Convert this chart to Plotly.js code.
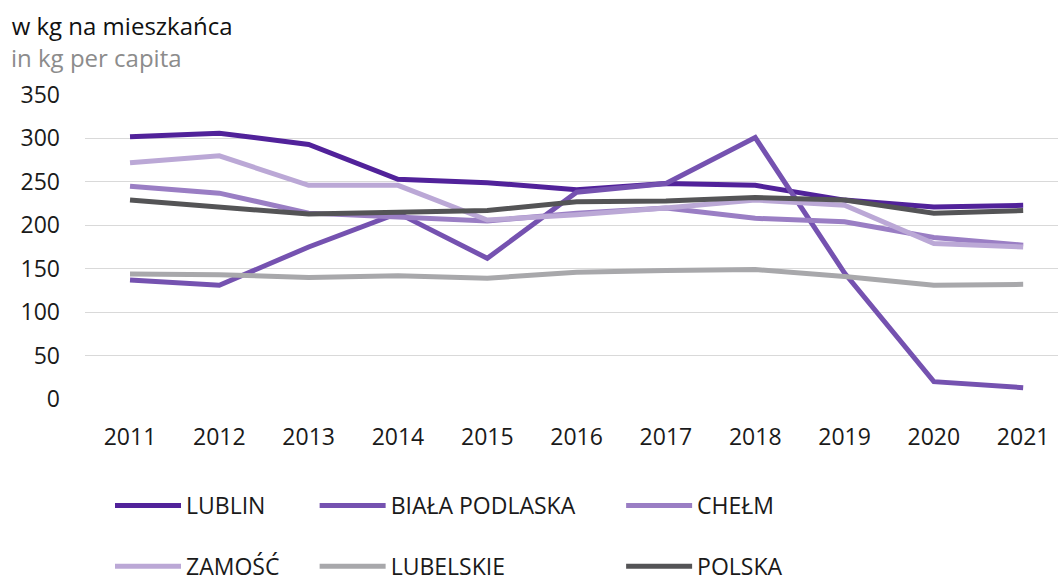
<!DOCTYPE html>
<html>
<head>
<meta charset="utf-8">
<script src="https://cdn.plot.ly/plotly-3.0.1.min.js"></script>
<style>html,body{margin:0;padding:0;background:#fff;}#chart{width:1058px;height:582px;}</style>
</head>
<body>
<div id="chart"></div>
<script>
const years = [2011, 2012, 2013, 2014, 2015, 2016, 2017, 2018, 2019, 2020, 2021];
const yearLabels = ["2011","2012","2013","2014","2015","2016","2017","2018","2019","2020","2021"];
const lublin = [302, 306, 293, 253, 249, 241, 248, 246, 229, 221, 223];
const bialaPodlaska = [137, 131, 175, 214, 162, 238, 248, 301, 145, 20, 13];
const chelm = [245, 237, 214, 209, 205, 214, 220, 208, 204, 186, 177];
const zamosc = [272, 280, 246, 246, 206, 212, 220, 229, 223, 179, 175];
const lubelskie = [144, 143, 140, 142, 139, 146, 148, 149, 141, 131, 132];
const polska = [229, 221, 213, 215, 217, 227, 228, 232, 229, 214, 217];
const yTicks = [0, 50, 100, 150, 200, 250, 300, 350];

const seriesNames = ["LUBLIN", "BIAŁA PODLASKA", "CHEŁM", "ZAMOŚĆ", "LUBELSKIE", "POLSKA"];
const seriesData = [lublin, bialaPodlaska, chelm, zamosc, lubelskie, polska];
const seriesColors = ["#51229A", "#7552B0", "#9A7EC4", "#BBA8D6", "#A8A8AB", "#545456"];
const seriesLegend = ["legend", "legend2", "legend3", "legend", "legend2", "legend3"];

const FONT = "Open Sans, Noto Sans, sans-serif";
const FS = 23;

const traces = seriesNames.map((n, i) => ({
  type: "scatter",
  mode: "lines",
  name: n,
  x: years,
  y: seriesData[i],
  line: {color: seriesColors[i], width: 5},
  legend: seriesLegend[i],
  legendgroup: "g" + i,
  hoverinfo: "skip"
}));

const legendBase = {
  orientation: "v",
  yanchor: "top",
  xanchor: "left",
  yref: "container",
  y: 0.1684,
  bgcolor: "rgba(0,0,0,0)",
  font: {family: FONT, size: FS, color: "#1a1a1a"},
  tracegroupgap: 28,
  itemwidth: 66,
  traceorder: "grouped"
};

const layout = {
  width: 1058,
  height: 582,
  paper_bgcolor: "#fff",
  plot_bgcolor: "#fff",
  margin: {l: 85, r: 0, t: 95, b: 183},
  font: {family: FONT, size: FS, color: "#1a1a1a"},
  title: {
    text: "w kg na mieszkańca",
    x: 0.011, xanchor: "left", xref: "container",
    y: 1 - 27 / 582, yanchor: "middle", yref: "container",
    font: {family: FONT, size: 24, color: "#111"}
  },
  annotations: [{
    text: "in kg per capita",
    xref: "paper", yref: "paper",
    x: (9 - 85) / 973, xanchor: "left",
    y: (399 - 57.5) / 304, yanchor: "middle",
    showarrow: false,
    font: {family: FONT, size: 24, color: "#8c8c8c"}
  }],
  xaxis: {
    range: [2010.496, 2021.39],
    tickvals: years,
    ticktext: yearLabels,
    showgrid: false,
    zeroline: false,
    showline: false,
    ticks: "",
    ticklabelstandoff: 22,
    tickfont: {family: FONT, size: FS, color: "#1a1a1a"},
    fixedrange: true
  },
  yaxis: {
    range: [0, 350],
    tickvals: yTicks,
    showgrid: true,
    gridcolor: "#d9d9d9",
    gridwidth: 1,
    zeroline: false,
    showline: false,
    ticks: "",
    ticklabelstandoff: 24,
    tickfont: {family: FONT, size: FS, color: "#1a1a1a"},
    fixedrange: true
  },
  legend: Object.assign({}, legendBase, {x: 0.0257}),
  legend2: Object.assign({}, legendBase, {x: 0.236}),
  legend3: Object.assign({}, legendBase, {x: 0.551}),
  showlegend: true
};

Plotly.newPlot("chart", traces, layout, {displayModeBar: false, staticPlot: true});
</script>
</body>
</html>
